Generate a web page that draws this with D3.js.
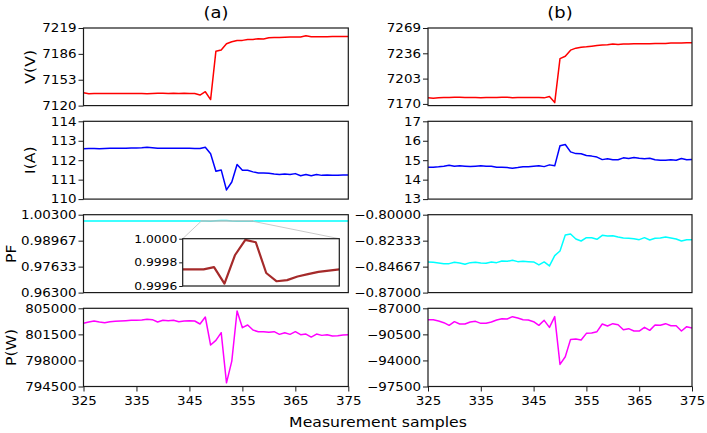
<!DOCTYPE html>
<html>
<head>
<meta charset="utf-8">
<script src="https://cdn.jsdelivr.net/npm/d3@7/dist/d3.min.js"></script>
<style>
  html, body { margin: 0; padding: 0; background: #fff; }
  svg { display: block; }
  text { font-family: "DejaVu Sans", sans-serif; fill: #000; }
</style>
</head>
<body>
<svg id="chart" width="707" height="433"></svg>
<script>
// ---------------- DATA ----------------
const xStart = 325, xEnd = 375;
const xTicks = [325, 335, 345, 355, 365, 375];

// (a) column
const vA = [7136.3,7135.0,7135.5,7135.5,7135.4,7135.4,7135.4,7135.3,7135.4,7135.3,
            7135.3,7135.3,7135.2,7135.4,7135.6,7135.8,7135.5,7135.6,7135.4,7135.6,
            7135.3,7135.5,7133.5,7137.7,7127.7,7189.4,7191.0,7199.0,7201.4,7203.0,
            7203.2,7204.4,7204.4,7205.3,7205.0,7206.6,7206.8,7206.9,7207.2,7207.4,
            7207.4,7207.6,7209.0,7207.8,7207.8,7207.8,7207.9,7208.0,7208.0,7208.2,7208.2];
const iA = [112.59,112.60,112.60,112.59,112.60,112.61,112.61,112.62,112.62,112.63,
            112.63,112.64,112.66,112.64,112.61,112.62,112.62,112.62,112.61,112.62,
            112.62,112.60,112.60,112.67,112.33,111.43,111.50,110.47,110.88,111.78,
            111.48,111.48,111.40,111.34,111.34,111.33,111.29,111.26,111.29,111.26,
            111.31,111.20,111.26,111.20,111.26,111.22,111.24,111.22,111.22,111.24,111.24];
const pfA = [0.99974,0.99974,0.99973,0.99974,0.99974,0.99975,0.99974,0.99974,0.99973,0.99974,
             0.99974,0.99975,0.99974,0.99974,0.99973,0.99974,0.99974,0.99975,0.99974,0.99974,
             0.99974,0.99974,0.99974,0.99976,0.99962,0.99986,0.99999,0.99997,0.99971,0.99964,
             0.99965,0.99968,0.99970,0.99972,0.99973,0.99974,0.99974,0.99975,0.99974,0.99974,
             0.99975,0.99974,0.99974,0.99975,0.99974,0.99974,0.99975,0.99974,0.99974,0.99975,0.99974];
const pA = [802980,803160,803295,803160,803070,803205,803250,803295,803340,803385,
            803385,803430,803520,803475,803160,803385,803340,803385,803205,803295,
            803340,803295,802890,803830,800065,800690,801725,794995,797910,804640,
            802400,802760,802080,801860,801860,801770,801860,801500,801725,801500,
            801860,801455,801545,801140,801545,801365,801455,801275,801320,801410,801455];

// (b) column
const vB = [7177.9,7177.4,7177.9,7178.3,7178.3,7178.7,7178.7,7178.3,7178.3,7178.3,
            7177.9,7178.3,7178.3,7178.3,7178.7,7178.7,7177.9,7178.3,7178.3,7178.3,
            7178.3,7178.3,7177.9,7179.6,7171.7,7229.1,7232.2,7240.1,7242.7,7244.0,
            7244.5,7245.3,7246.2,7246.7,7247.1,7248.0,7247.5,7248.0,7248.0,7248.4,
            7248.4,7248.4,7248.4,7248.8,7248.8,7248.8,7249.3,7249.3,7249.3,7249.7,7249.7];
const iB = [14.64,14.64,14.66,14.69,14.74,14.69,14.71,14.69,14.67,14.69,
            14.71,14.69,14.69,14.64,14.64,14.62,14.59,14.62,14.66,14.66,
            14.69,14.72,14.67,14.76,14.71,15.74,15.81,15.43,15.34,15.33,
            15.24,15.21,15.16,15.03,15.07,15.02,15.02,15.12,15.09,15.14,
            15.10,15.07,15.10,15.02,15.00,15.00,15.02,15.00,15.09,15.02,15.03];
const pfB = [-0.84247,-0.84277,-0.84337,-0.84397,-0.84397,-0.84277,-0.84337,-0.84457,-0.84307,-0.84277,
             -0.84337,-0.84367,-0.84247,-0.84307,-0.84158,-0.84188,-0.84098,-0.84218,-0.84188,-0.84218,
             -0.84247,-0.84517,-0.84247,-0.84606,-0.83679,-0.83260,-0.81825,-0.81735,-0.82183,-0.82363,
             -0.82064,-0.82064,-0.82213,-0.81855,-0.81914,-0.81884,-0.82004,-0.82094,-0.82124,-0.82154,
             -0.82243,-0.82064,-0.82273,-0.82124,-0.82094,-0.82004,-0.82094,-0.82183,-0.82363,-0.82243,-0.82243];
const pB = [-88526,-88526,-88705,-88929,-89288,-88795,-89109,-89109,-88840,-88750,
            -89019,-89019,-88840,-88570,-88391,-88436,-88122,-88301,-88526,-88570,
            -88795,-89288,-88615,-89558,-88122,-94538,-93506,-91173,-91128,-91263,
            -90365,-90320,-90141,-89109,-89378,-89064,-89199,-89872,-89737,-90051,
            -90051,-89558,-89961,-89243,-89288,-89064,-89333,-89333,-90051,-89468,-89647];

// y-axis ticks and labels
const ticksVA = [7120, 7153, 7186, 7219], labelsVA = ["7120","7153","7186","7219"];
const ticksIA = [110, 111, 112, 113, 114], labelsIA = ["110","111","112","113","114"];
const ticksPFA = [0.963, 0.976333, 0.989667, 1.003], labelsPFA = ["0.96300","0.97633","0.98967","1.00300"];
const ticksPA = [794500, 798000, 801500, 805000], labelsPA = ["794500","798000","801500","805000"];
const ticksVB = [7170, 7203, 7236, 7269], labelsVB = ["7170","7203","7236","7269"];
const ticksIB = [13, 14, 15, 16, 17], labelsIB = ["13","14","15","16","17"];
const ticksPFB = [-0.87, -0.846667, -0.823333, -0.8], labelsPFB = ["\u22120.87000","\u22120.84667","\u22120.82333","\u22120.80000"];
const ticksPB = [-97500, -94000, -90500, -87000], labelsPB = ["\u221297500","\u221294000","\u221290500","\u221287000"];

// inset (zoom of PF in column a)
const insetRange = [345, 360];
const insetY = [0.9996, 1.0000];
const ticksInset = [0.9996, 0.9998, 1.0000], labelsInset = ["0.9996","0.9998","1.0000"];
const zoomRect = [347.2, 357.0];

const titles = ["(a)", "(b)"];
const rowLabels = ["V(V)", "I(A)", "PF", "P(W)"];
const xLabel = "Measurement samples";

// ---------------- LAYOUT ----------------
const cols = [{x0: 83.5, x1: 348.3}, {x0: 428, x1: 692}];
const rows = [{y0: 28, y1: 105.6}, {y0: 121.3, y1: 199.1}, {y0: 214.7, y1: 292.6}, {y0: 308.3, y1: 386.5}];
const SX = 1.12; // horizontal glyph widening to match reference
const tickFont = 12;
const frameColor = "#1a1a1a";

const panels = [
  [ {data: vA, dom: [7120, 7219], ticks: ticksVA, labels: labelsVA, color: "#ff0000"},
    {data: iA, dom: [110, 114], ticks: ticksIA, labels: labelsIA, color: "#0000ff"},
    {data: pfA, dom: [0.963, 1.003], ticks: ticksPFA, labels: labelsPFA, color: "#00ffff"},
    {data: pA, dom: [794500, 805000], ticks: ticksPA, labels: labelsPA, color: "#ff00ff"} ],
  [ {data: vB, dom: [7167.8, 7269], ticks: ticksVB, labels: labelsVB, color: "#ff0000"},
    {data: iB, dom: [13, 17], ticks: ticksIB, labels: labelsIB, color: "#0000ff"},
    {data: pfB, dom: [-0.87, -0.8], ticks: ticksPFB, labels: labelsPFB, color: "#00ffff"},
    {data: pB, dom: [-97500, -87000], ticks: ticksPB, labels: labelsPB, color: "#ff00ff"} ]
];

const svg = d3.select("#chart");
const samples = d3.range(xStart, xEnd + 1);

function styleAxis(g, fs) {
  g.select(".domain").remove();
  g.selectAll(".tick line").attr("stroke", frameColor).attr("stroke-width", 1);
  g.selectAll(".tick text").style("font-size", fs + "px").attr("fill", "#000");
}

let mainScales = {};

panels.forEach((col, ci) => {
  const c = cols[ci];
  const x = d3.scaleLinear().domain([xStart, xEnd]).range([c.x0, c.x1]);
  col.forEach((p, ri) => {
    const r = rows[ri];
    const y = d3.scaleLinear().domain(p.dom).range([r.y1, r.y0]);
    if (ci === 0 && ri === 2) mainScales = {x, y};
    const clipId = `clip-${ci}-${ri}`;
    svg.append("clipPath").attr("id", clipId).append("rect")
      .attr("x", c.x0).attr("y", r.y0).attr("width", c.x1 - c.x0).attr("height", r.y1 - r.y0);

    const line = d3.line().x((d, i) => x(samples[i])).y(d => y(d));
    svg.append("path").datum(p.data)
      .attr("d", line).attr("fill", "none").attr("stroke", p.color)
      .attr("stroke-width", 1.5).attr("stroke-linejoin", "round")
      .attr("clip-path", `url(#${clipId})`);

    // y axis
    const ya = svg.append("g").attr("transform", `translate(${c.x0},0)`)
      .call(d3.axisLeft(y).tickValues(p.ticks).tickFormat((d, i) => p.labels[i]).tickSize(5).tickPadding(2));
    styleAxis(ya, tickFont);
    ya.selectAll(".tick text").attr("x", -7 / SX).attr("transform", `scale(${SX},1)`);

    // x axis only on bottom row
    if (ri === 3) {
      const xa = svg.append("g").attr("transform", `translate(0,${r.y1})`)
        .call(d3.axisBottom(x).tickValues(xTicks).tickFormat(d3.format("d")).tickSize(5).tickPadding(5));
      styleAxis(xa, tickFont);
      xa.selectAll(".tick text").attr("transform", `scale(${SX},1)`);
    }

    // frame
    svg.append("rect").attr("x", c.x0).attr("y", r.y0)
      .attr("width", c.x1 - c.x0).attr("height", r.y1 - r.y0)
      .attr("fill", "none").attr("stroke", frameColor).attr("stroke-width", 1.2);
  });

  // column title
  svg.append("text").attr("transform", `translate(${(c.x0 + c.x1) / 2},18) scale(${SX},1)`)
    .attr("text-anchor", "middle").style("font-size", "16px").text(titles[ci]);
});

// row labels
const labelX = [35, 35, 16, 16];
rowLabels.forEach((t, ri) => {
  const r = rows[ri];
  svg.append("text")
    .attr("transform", `translate(${labelX[ri]},${(r.y0 + r.y1) / 2}) rotate(-90) scale(${SX},1)`)
    .attr("text-anchor", "middle").style("font-size", "14px").text(t);
});

// x label
svg.append("text").attr("transform", `translate(378,427) scale(${SX},1)`)
  .attr("text-anchor", "middle").style("font-size", "14px").text(xLabel);

// ---------------- INSET ----------------
const ins = {x0: 182.7, x1: 339.3, y0: 238.7, y1: 286};
const xi = d3.scaleLinear().domain(insetRange).range([ins.x0, ins.x1]);
const yi = d3.scaleLinear().domain(insetY).range([ins.y1, ins.y0]);
const mx = mainScales.x, my = mainScales.y;

// zoom rectangle on main axes + connectors
const rx0 = mx(zoomRect[0]), rx1 = mx(zoomRect[1]);
const ry0 = my(insetY[1]), ry1 = my(insetY[0]);
svg.append("rect").attr("x", rx0).attr("y", ry0).attr("width", rx1 - rx0).attr("height", ry1 - ry0)
  .attr("fill", "none").attr("stroke", "#bdbdbd").attr("stroke-width", 0.7);
svg.append("line").attr("x1", rx0).attr("y1", ry1).attr("x2", ins.x0).attr("y2", ins.y0)
  .attr("stroke", "#bdbdbd").attr("stroke-width", 0.8);
svg.append("line").attr("x1", rx1).attr("y1", ry1).attr("x2", ins.x1).attr("y2", ins.y0)
  .attr("stroke", "#bdbdbd").attr("stroke-width", 0.8);

svg.append("rect").attr("x", ins.x0).attr("y", ins.y0).attr("width", ins.x1 - ins.x0).attr("height", ins.y1 - ins.y0)
  .attr("fill", "#fff");
svg.append("clipPath").attr("id", "clip-inset").append("rect")
  .attr("x", ins.x0).attr("y", ins.y0).attr("width", ins.x1 - ins.x0).attr("height", ins.y1 - ins.y0);

const insetData = samples.map((s, i) => ({s, v: pfA[i]})).filter(d => d.s >= insetRange[0] && d.s <= insetRange[1]);
svg.append("path").datum(insetData)
  .attr("d", d3.line().x(d => xi(d.s)).y(d => yi(d.v)))
  .attr("fill", "none").attr("stroke", "#a52a2a").attr("stroke-width", 2.2).attr("stroke-linejoin", "round")
  .attr("clip-path", "url(#clip-inset)");

const yia = svg.append("g").attr("transform", `translate(${ins.x0},0)`)
  .call(d3.axisLeft(yi).tickValues(ticksInset).tickFormat((d, i) => labelsInset[i]).tickSize(3.5).tickPadding(2));
styleAxis(yia, 11);
yia.selectAll(".tick text").attr("x", -5.5 / SX).attr("transform", `scale(${SX},1)`);

svg.append("rect").attr("x", ins.x0).attr("y", ins.y0).attr("width", ins.x1 - ins.x0).attr("height", ins.y1 - ins.y0)
  .attr("fill", "none").attr("stroke", frameColor).attr("stroke-width", 1.2);
</script>
</body>
</html>
